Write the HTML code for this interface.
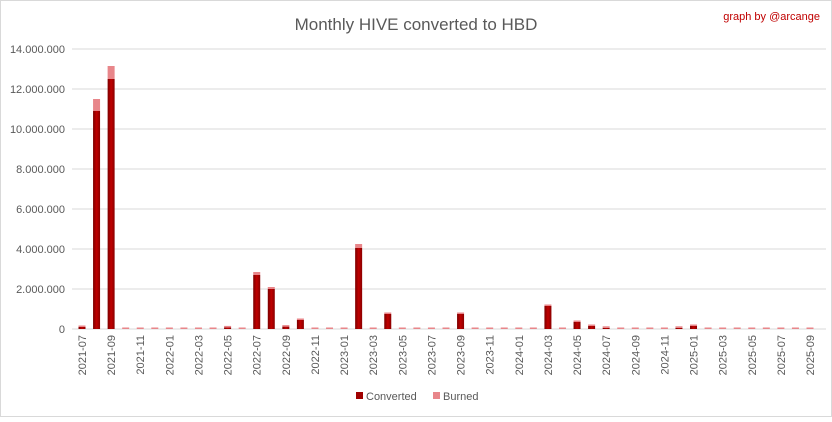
<!DOCTYPE html>
<html><head><meta charset="utf-8"><style>
body{margin:0;background:#fff}
svg{font-family:"Liberation Sans",sans-serif}
</style></head><body>
<svg id="chart" width="832" height="417" viewBox="0 0 832 417">
<defs>
<linearGradient id="conv" x1="0" x2="1" y1="0" y2="0">
<stop offset="0" stop-color="#7a0000"/><stop offset="0.5" stop-color="#c00000"/><stop offset="1" stop-color="#8a0000"/>
</linearGradient>
</defs>
<rect x="0.5" y="0.5" width="831" height="416" fill="#fff" stroke="#d9d9d9"/>
<text x="416" y="30" text-anchor="middle" font-size="17" fill="#595959">Monthly HIVE converted to HBD</text>
<text x="820" y="20" text-anchor="end" font-size="11" fill="#c00000">graph by @arcange</text>
<g id="grid"></g><g id="bars"></g><g id="xl"></g>
<g>
<rect x="356" y="392" width="7" height="7" fill="#a00000"/>
<text x="366" y="400" font-size="11" fill="#595959">Converted</text>
<rect x="433" y="392" width="7" height="7" fill="#e8868a"/>
<text x="443" y="400" font-size="11" fill="#595959">Burned</text>
</g>
</svg>
<script>
const converted=[0.1,10.9,12.5,0,0,0,0,0,0,0,0.08,0,2.7,2.0,0.12,0.45,0,0,0,4.05,0,0.75,0,0,0,0,0.75,0,0,0,0,0,1.15,0,0.35,0.15,0.06,0,0,0,0,0.06,0.15,0,0,0,0,0,0,0,0];
const burned=[0.05,0.6,0.65,0.03,0.03,0.03,0.03,0.03,0.03,0.03,0.04,0.03,0.15,0.1,0.05,0.05,0.03,0.03,0.03,0.2,0.03,0.05,0.03,0.03,0.03,0.03,0.07,0.03,0.03,0.03,0.03,0.03,0.05,0.03,0.07,0.05,0.04,0.03,0.03,0.03,0.03,0.04,0.05,0.03,0.03,0.03,0.03,0.03,0.03,0.03,0.03];
const yTicks=[0,2,4,6,8,10,12,14];
const yTickLabels=["0","2.000.000","4.000.000","6.000.000","8.000.000","10.000.000","12.000.000","14.000.000"];
const NS="http://www.w3.org/2000/svg";
const months=[];for(let i=0;i<51;i++){const m=(6+i)%12+1,y=2021+Math.floor((6+i)/12);months.push(y+"-"+(m<10?"0":"")+m);}
const y0=329,pxPer=20,x0=82,step=14.56,bw=7;
const Y=v=>y0-v*pxPer, X=i=>x0+i*step;
function mk(t,a,p){const e=document.createElementNS(NS,t);for(const k in a)e.setAttribute(k,a[k]);p.appendChild(e);return e;}
const g=document.getElementById('grid');
yTicks.forEach((v,i)=>{
 const l=mk('line',{x1:72,x2:826,y1:Y(v),y2:Y(v),stroke:'#d9d9d9'},g);
 
 
 const t=mk('text',{x:65,y:Y(v)+4,'text-anchor':'end','font-size':11,fill:'#595959'},g);
 
 
 t.textContent=yTickLabels[i];
});
const b=document.getElementById('bars');
converted.forEach((c,i)=>{
 const bu=burned[i];
 if(c>0){const r=mk('rect',{x:X(i)-bw/2,y:Y(c),width:bw,height:c*pxPer,fill:'url(#conv)'},b);
 
 }
 const h=Math.max(bu*pxPer,1.5);
 const r2=mk('rect',{x:X(i)-bw/2,y:Y(c)-h,width:bw,height:h,fill:'#e8868a'},b);
 
 
});
const xl=document.getElementById('xl');
months.forEach((m,i)=>{if(i%2)return;
 const t=mk('text',{x:0,y:0,'text-anchor':'end','font-size':11,fill:'#595959',transform:`translate(${X(i)+4},335) rotate(-90)`},xl);
 
 
 t.textContent=m;
});
</script>
</body></html>
